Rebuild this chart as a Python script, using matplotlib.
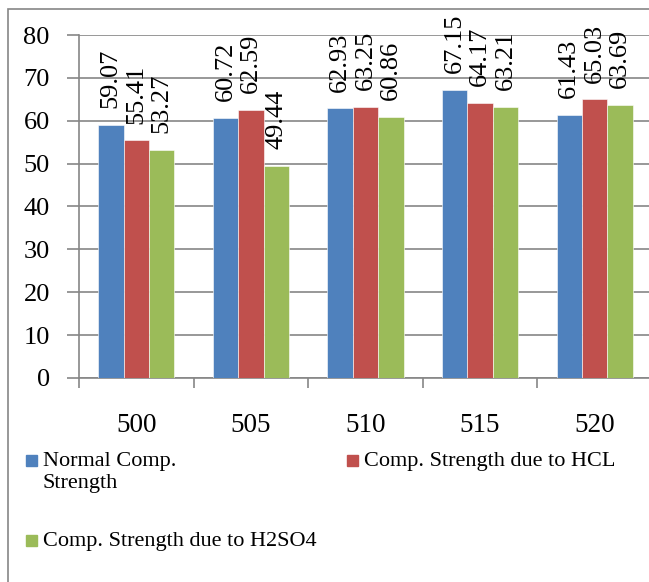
import numpy as np
import matplotlib.pyplot as plt
from matplotlib.patches import Rectangle

# Data
categories = ['500', '505', '510', '515', '520']
normal = [59.07, 60.72, 62.93, 67.15, 61.43]
hcl = [55.41, 62.59, 63.25, 64.17, 65.03]
h2so4 = [53.27, 49.44, 60.86, 63.21, 63.69]
series_names = ['Normal Comp.\nStrength', 'Comp. Strength due to HCL',
                'Comp. Strength due to H2SO4']
colors = ['#4F81BD', '#C0504D', '#9BBB59']

plt.rcParams['font.family'] = ['Liberation Serif', 'DejaVu Serif']
grid_col = '#868686'

W, H = 649, 582
fig = plt.figure(figsize=(W / 100, H / 100), dpi=100)

# chart border (cropped at right and bottom in the reference)
fig.patches.append(Rectangle((8 / W, -0.1), 1.2, 1 - 9 / H + 0.1,
                             transform=fig.transFigure, fill=False,
                             edgecolor=grid_col, lw=1.2))

ax = fig.add_axes([79 / W, 1 - 378 / H, (652 - 79) / W, (378 - 35) / H])

x = np.arange(len(categories))
w = 0.222
for i, vals in enumerate([normal, hcl, h2so4]):
    pos = x + (i - 1) * w
    bars = ax.bar(pos, vals, w, color=colors[i], edgecolor='white',
                  linewidth=0.4, zorder=3)
    for b, v in zip(bars, vals):
        ax.annotate(f'{v:.2f}', (b.get_x() + b.get_width() / 2, v),
                    xytext=(0, 12), textcoords='offset points',
                    rotation=90, ha='center', va='bottom', fontsize=19)

ax.set_xlim(-0.5, len(categories) - 0.5)
ax.set_ylim(0, 80)
ax.set_yticks(np.arange(0, 81, 10))
ax.yaxis.grid(True, color=grid_col, lw=1.2, zorder=0)
ax.set_axisbelow(True)

ax.set_xticks(np.arange(-0.5, len(categories), 1.0))
ax.set_xticklabels([])
ax.set_xticks(x, minor=True)
ax.set_xticklabels(categories, minor=True)
ax.tick_params(axis='x', which='major', length=7, width=1.2, color=grid_col)
ax.tick_params(axis='x', which='minor', length=0, pad=25, labelsize=19.5)
ax.tick_params(axis='y', length=9, width=1.2, color=grid_col, pad=12,
               labelsize=19)

for s in ['top', 'right']:
    ax.spines[s].set_visible(False)
for s in ['left', 'bottom']:
    ax.spines[s].set_color(grid_col)
    ax.spines[s].set_linewidth(1.2)

# legend, laid out like the Excel one
leg_pos = [(26, 461), (347, 461), (26, 541)]
for name, c, (lx, ly) in zip(series_names, colors, leg_pos):
    fig.patches.append(Rectangle((lx / W, (H - ly - 5) / H), 11 / W, 11 / H,
                                 transform=fig.transFigure, color=c))
    fig.text((lx + 17) / W, (H - ly + 9) / H, name, fontsize=16,
             va='top', ha='left', linespacing=1.2)

fig.savefig('out.png', dpi=100)
